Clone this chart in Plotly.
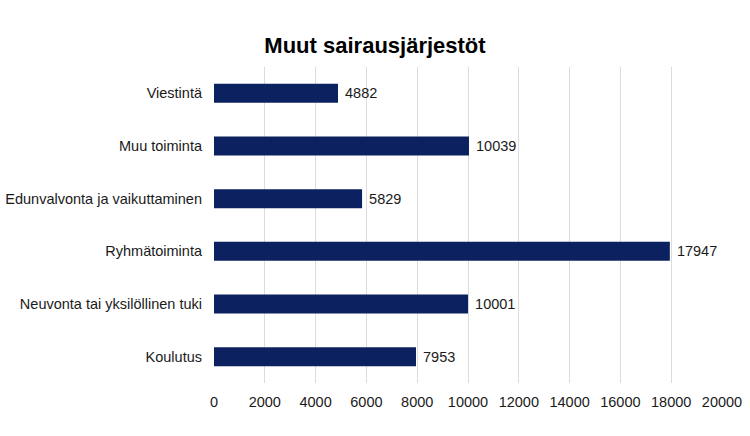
import plotly.graph_objects as go

categories = ["Viestintä", "Muu toiminta", "Edunvalvonta ja vaikuttaminen",
              "Ryhmätoiminta", "Neuvonta tai yksilöllinen tuki", "Koulutus"]
values = [4882, 10039, 5829, 17947, 10001, 7953]
tick_vals = list(range(0, 20001, 2000))
tick_text = [str(v) for v in tick_vals]

FONT = "Liberation Sans, Arial, sans-serif"

fig = go.Figure(go.Bar(
    y=categories, x=values, orientation="h",
    marker=dict(color="#0c2260", line=dict(width=0)),
    text=[" " + str(v) for v in values], textposition="outside",
    textfont=dict(family=FONT, size=14.5, color="#1a1a1a"),
    cliponaxis=False,
))

fig.update_layout(
    width=750, height=436,
    margin=dict(l=214, r=28, t=67, b=53),
    paper_bgcolor="white", plot_bgcolor="white",
    bargap=0.64,
    title=dict(text="<b>Muut sairausjärjestöt</b>", x=0.5, xanchor="center",
               y=1 - 45/436, yref="container", yanchor="middle",
               font=dict(family=FONT, size=22, color="#000000")),
    font=dict(family=FONT, size=14.5, color="#1a1a1a"),
    showlegend=False,
)
fig.update_xaxes(range=[0, 20000], tickvals=tick_vals, ticktext=tick_text,
                 showgrid=True, gridcolor="#dcdcdc", automargin=False,
                 ticklabelstandoff=8,
                 zeroline=False, showline=False, ticks="", tickfont=dict(size=14.5))
fig.update_yaxes(autorange="reversed", ticks="", ticklabelstandoff=11, automargin=False,
                 showline=False, tickfont=dict(size=14.5))

fig.write_html("out.html")
